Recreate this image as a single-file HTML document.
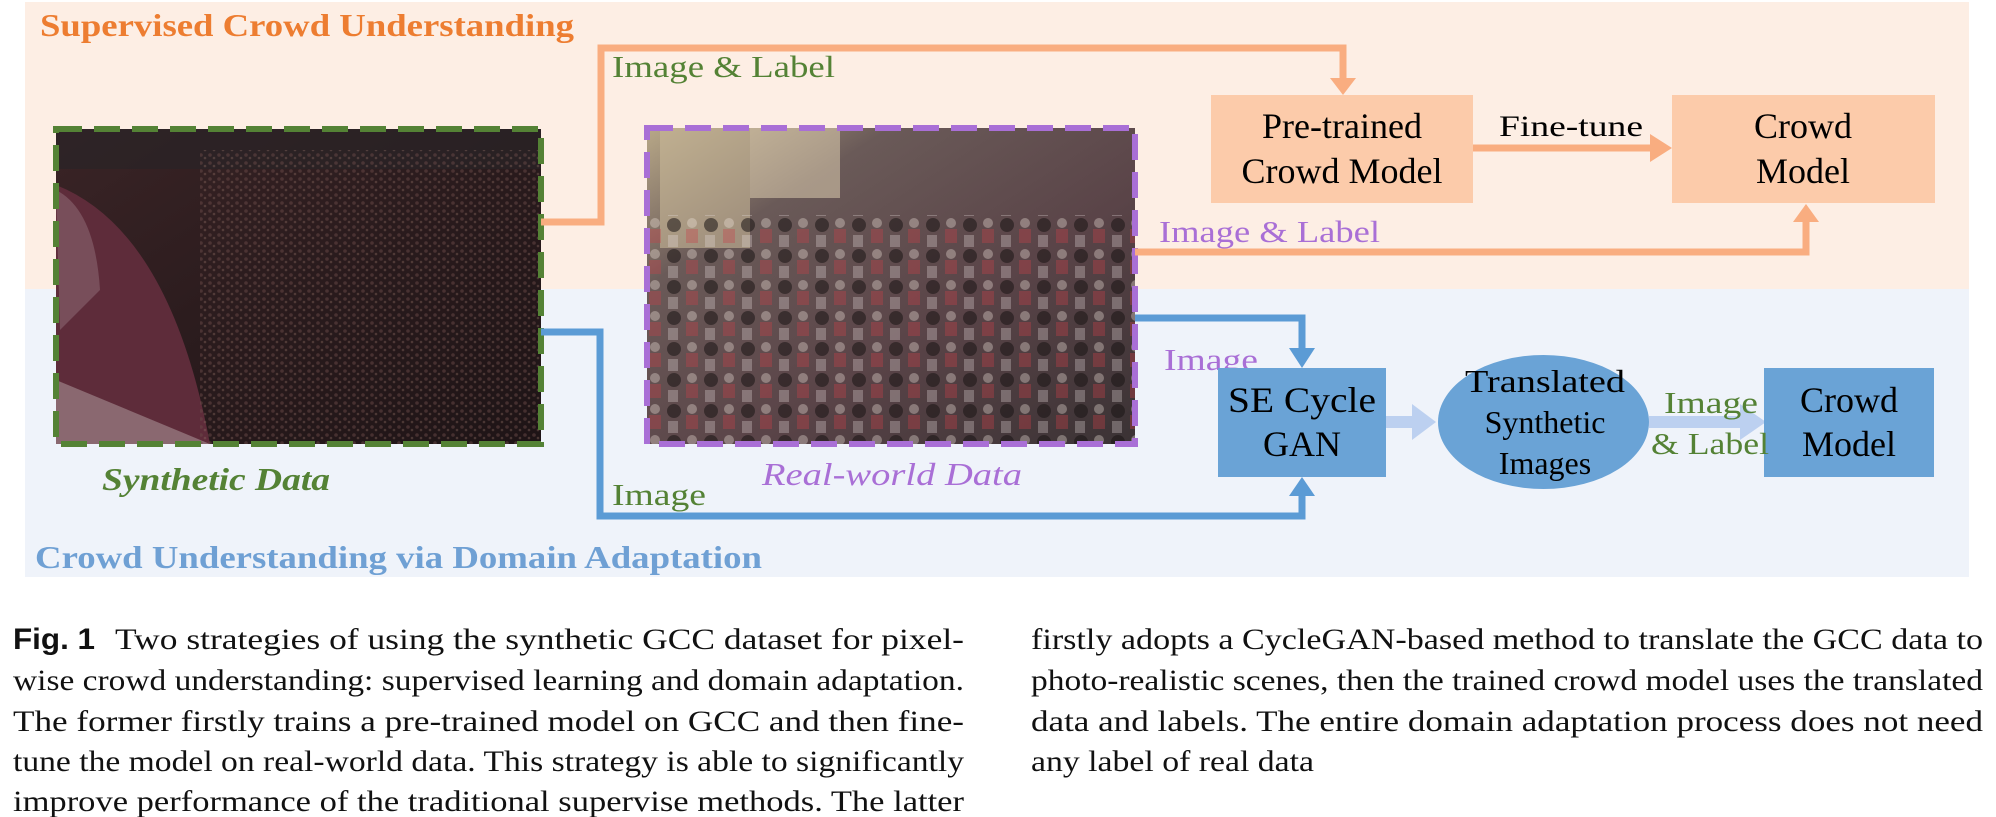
<!DOCTYPE html>
<html><head><meta charset="utf-8"><style>
html,body{margin:0;padding:0;background:#fff;}
svg{display:block;}
.d{font-family:"Liberation Serif",serif;}
</style></head><body>
<svg width="1996" height="817" viewBox="0 0 1996 817" xmlns="http://www.w3.org/2000/svg">
<defs>
<linearGradient id="syn" x1="0" y1="0" x2="1" y2="1">
<stop offset="0" stop-color="#3a2426"/><stop offset="0.5" stop-color="#2a1b1d"/><stop offset="1" stop-color="#1e1416"/>
</linearGradient>
<linearGradient id="real" x1="0" y1="0" x2="1" y2="1">
<stop offset="0" stop-color="#b8a888"/><stop offset="0.25" stop-color="#6a5a58"/><stop offset="0.6" stop-color="#5a4448"/><stop offset="1" stop-color="#3a3234"/>
</linearGradient>
<pattern id="dots" width="9" height="8" patternUnits="userSpaceOnUse">
<circle cx="3" cy="3" r="1.8" fill="#6a4a48" opacity="0.5"/><circle cx="7" cy="6" r="1.3" fill="#8a6a60" opacity="0.4"/>
</pattern>
<pattern id="dots2" width="37" height="31" patternUnits="userSpaceOnUse">
<circle cx="8" cy="8" r="7" fill="#1a1414" opacity="0.55"/><rect x="20" y="12" width="12" height="14" fill="#c84048" opacity="0.35"/><circle cx="26" cy="6" r="5" fill="#f0e4dc" opacity="0.35"/><rect x="2" y="18" width="10" height="12" fill="#e8e0e0" opacity="0.3"/>
</pattern>
</defs>
<rect x="25" y="2" width="1944" height="287" fill="#fdeee4"/>
<rect x="25" y="289" width="1944" height="288" fill="#eff3fa"/>
<text class="d" x="40" y="36" font-size="32" font-weight="bold" fill="#ed7d31" textLength="534" lengthAdjust="spacingAndGlyphs">Supervised Crowd Understanding</text>
<text class="d" x="35" y="568" font-size="32" font-weight="bold" fill="#6fa0d4" textLength="727" lengthAdjust="spacingAndGlyphs">Crowd Understanding via Domain Adaptation</text>

<!-- synthetic image -->
<rect x="56" y="129" width="485" height="315" fill="url(#syn)"/>
<path d="M56 185 Q170 230 210 444 L56 444 Z" fill="#5e2c3a"/>
<path d="M56 190 Q95 210 100 290 L60 330 Z" fill="#8a6670" opacity="0.6"/>
<path d="M56 380 L210 444 L56 444Z" fill="#8a6870"/>
<rect x="56" y="129" width="485" height="40" fill="#2a2426" opacity="0.7"/>
<rect x="200" y="150" width="341" height="294" fill="url(#dots)"/>
<rect x="56" y="129" width="485" height="315" fill="none" stroke="#548235" stroke-width="6" stroke-dasharray="26 12"/>
<text class="d" x="102" y="490" font-size="32" font-style="italic" font-weight="bold" fill="#548235" textLength="228" lengthAdjust="spacingAndGlyphs">Synthetic Data</text>

<!-- real image -->
<rect x="647" y="128" width="488" height="316" fill="url(#real)"/>
<rect x="660" y="128" width="90" height="120" fill="#c8b898" opacity="0.6"/>
<rect x="750" y="128" width="90" height="70" fill="#e8d8b8" opacity="0.5"/>
<rect x="647" y="215" width="488" height="229" fill="url(#dots2)"/>
<rect x="647" y="128" width="488" height="316" fill="none" stroke="#a96fd6" stroke-width="6" stroke-dasharray="26 12"/>
<text class="d" x="762" y="485" font-size="32" font-style="italic" fill="#a96fd6" textLength="260" lengthAdjust="spacingAndGlyphs">Real-world Data</text>

<g fill="none" stroke="#f9ad80" stroke-width="7">
<polyline points="541,222 601,222 601,48 1343,48 1343,80"/>
<polyline points="1135,252 1806,252 1806,220"/>
<line x1="1473" y1="148" x2="1652" y2="148"/>
</g>
<g fill="#f9ad80">
<polygon points="1330,78 1356,78 1343,95"/>
<polygon points="1793,222 1819,222 1806,204"/>
<polygon points="1650,134 1650,162 1672,148"/>
</g>
<text class="d" x="612" y="77" font-size="31" fill="#548235" textLength="223" lengthAdjust="spacingAndGlyphs">Image &amp; Label</text>
<text class="d" x="1159" y="242" font-size="31" fill="#a96fd6" textLength="221" lengthAdjust="spacingAndGlyphs">Image &amp; Label</text>

<rect x="1211" y="95" width="262" height="108" fill="#fccbaa"/>
<rect x="1672" y="95" width="263" height="108" fill="#fccbaa"/>
<text class="d" x="1342" y="138" font-size="36" text-anchor="middle" fill="#000">Pre-trained</text>
<text class="d" x="1342" y="183" font-size="36" text-anchor="middle" fill="#000">Crowd Model</text>
<text class="d" x="1803" y="138" font-size="36" text-anchor="middle" fill="#000">Crowd</text>
<text class="d" x="1803" y="183" font-size="36" text-anchor="middle" fill="#000">Model</text>
<text class="d" x="1499" y="136" font-size="30" fill="#000" textLength="144" lengthAdjust="spacingAndGlyphs">Fine-tune</text>

<g fill="none" stroke="#5b9bd5" stroke-width="7">
<polyline points="541,332 600,332 600,516 1302,516 1302,490"/>
<polyline points="1135,318 1302,318 1302,350"/>
</g>
<g fill="#5b9bd5">
<polygon points="1289,348 1315,348 1302,368"/>
<polygon points="1289,496 1315,496 1302,477"/>
</g>
<text class="d" x="612" y="505" font-size="31" fill="#548235" textLength="94" lengthAdjust="spacingAndGlyphs">Image</text>
<text class="d" x="1164" y="370" font-size="31" fill="#a96fd6" textLength="94" lengthAdjust="spacingAndGlyphs">Image</text>

<g fill="#bcd0f0">
<rect x="1386" y="416" width="30" height="12"/>
<polygon points="1412,404 1412,440 1436,422"/>
<rect x="1649" y="416" width="95" height="12"/>
<polygon points="1740,404 1740,440 1766,422"/>
</g>

<rect x="1218" y="368" width="168" height="109" fill="#6aa3d6"/>
<ellipse cx="1543.5" cy="422" rx="105.5" ry="67" fill="#6aa3d6"/>
<rect x="1764" y="368" width="170" height="109" fill="#6aa3d6"/>
<text class="d" x="1302" y="412" font-size="36" text-anchor="middle" fill="#000" textLength="148" lengthAdjust="spacingAndGlyphs">SE Cycle</text>
<text class="d" x="1302" y="456" font-size="36" text-anchor="middle" fill="#000">GAN</text>
<text class="d" x="1545" y="392" font-size="32" text-anchor="middle" fill="#000" textLength="160" lengthAdjust="spacingAndGlyphs">Translated</text>
<text class="d" x="1545" y="433" font-size="32" text-anchor="middle" fill="#000">Synthetic</text>
<text class="d" x="1545" y="474" font-size="32" text-anchor="middle" fill="#000">Images</text>
<text class="d" x="1849" y="412" font-size="36" text-anchor="middle" fill="#000">Crowd</text>
<text class="d" x="1849" y="456" font-size="36" text-anchor="middle" fill="#000">Model</text>
<text class="d" x="1664" y="413" font-size="31" fill="#548235" textLength="94" lengthAdjust="spacingAndGlyphs">Image</text>
<text class="d" x="1651" y="454" font-size="31" fill="#548235" textLength="118" lengthAdjust="spacingAndGlyphs">&amp; Label</text>

<g font-family="Liberation Serif, serif" font-size="30" fill="#111" lengthAdjust="spacingAndGlyphs">
<text x="13" y="649" font-family="Liberation Sans, sans-serif" font-weight="bold" textLength="82" lengthAdjust="spacingAndGlyphs">Fig. 1</text>
<text x="115" y="649" textLength="849" lengthAdjust="spacingAndGlyphs">Two strategies of using the synthetic GCC dataset for pixel-</text>
<text x="13" y="690" textLength="951" lengthAdjust="spacingAndGlyphs">wise crowd understanding: supervised learning and domain adaptation.</text>
<text x="13" y="731" textLength="951" lengthAdjust="spacingAndGlyphs">The former firstly trains a pre-trained model on GCC and then fine-</text>
<text x="13" y="771" textLength="951" lengthAdjust="spacingAndGlyphs">tune the model on real-world data. This strategy is able to significantly</text>
<text x="13" y="811" textLength="951" lengthAdjust="spacingAndGlyphs">improve performance of the traditional supervise methods. The latter</text>
<text x="1031" y="649" textLength="952" lengthAdjust="spacingAndGlyphs">firstly adopts a CycleGAN-based method to translate the GCC data to</text>
<text x="1031" y="690" textLength="952" lengthAdjust="spacingAndGlyphs">photo-realistic scenes, then the trained crowd model uses the translated</text>
<text x="1031" y="731" textLength="952" lengthAdjust="spacingAndGlyphs">data and labels. The entire domain adaptation process does not need</text>
<text x="1031" y="771" textLength="283" lengthAdjust="spacingAndGlyphs">any label of real data</text>
</g>
</svg>
</body></html>
